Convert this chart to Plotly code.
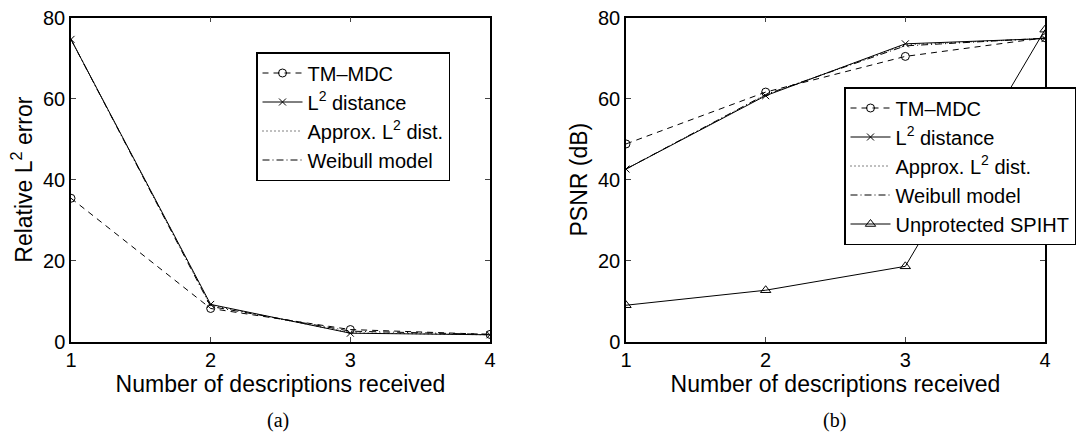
import plotly.graph_objects as go

x_desc = [1, 2, 3, 4]

# (a) Relative L2 error
a_tm_mdc = [35.4, 8.2, 3.0, 1.8]
a_l2_dist = [74.6, 9.2, 2.1, 1.7]
a_approx_l2 = [74.6, 9.0, 2.2, 1.7]
a_weibull = [74.6, 8.7, 2.6, 1.8]

# (b) PSNR (dB)
b_tm_mdc = [48.8, 61.6, 70.4, 75.0]
b_l2_dist = [42.6, 60.7, 73.5, 74.8]
b_approx_l2 = [42.6, 60.9, 73.3, 74.8]
b_weibull = [42.6, 61.0, 73.0, 74.9]
b_unprotected = [9.0, 12.7, 18.6, 77.0]

yticks = [0, 20, 40, 60, 80]

FONT = "Liberation Sans, Arial, sans-serif"
fig = go.Figure()

def add(xa, ya, y, name, dash, symbol, legend, msize=8):
    fig.add_trace(go.Scatter(
        x=x_desc, y=y, name=name, xaxis=xa, yaxis=ya, legend=legend,
        mode="lines+markers" if symbol else "lines",
        line=dict(color="black", width=1, dash=dash),
        marker=dict(symbol=symbol or "circle", size=msize, color="black",
                    line=dict(color="black", width=1)),
    ))

# panel (a)
add("x", "y", a_tm_mdc, "TM\u2013MDC", "6px,5px", "circle-open", "legend")
add("x", "y", a_l2_dist, "L<sup>2</sup> distance", "solid", "x-thin-open", "legend", 7)
add("x", "y", a_approx_l2, "Approx. L<sup>2</sup> dist.", "1px,3px", None, "legend")
add("x", "y", a_weibull, "Weibull model", "7px,3px,1px,3px", None, "legend")

# panel (b)
add("x2", "y2", b_tm_mdc, "TM\u2013MDC", "6px,5px", "circle-open", "legend2")
add("x2", "y2", b_l2_dist, "L<sup>2</sup> distance", "solid", "x-thin-open", "legend2", 7)
add("x2", "y2", b_approx_l2, "Approx. L<sup>2</sup> dist.", "1px,3px", None, "legend2")
add("x2", "y2", b_weibull, "Weibull model", "7px,3px,1px,3px", None, "legend2")
add("x2", "y2", b_unprotected, "Unprotected SPIHT", "solid", "triangle-up-open", "legend2", 9)

W, H = 1083, 434
ydom = [(H - 341.7) / H, (H - 17.5) / H]

xcommon = dict(range=[1, 4], tickvals=x_desc, ticks="inside", ticklen=5, mirror="ticks",
               showline=True, linecolor="black", linewidth=1.5, showgrid=False, zeroline=False,
               automargin=False,
               tickfont=dict(family=FONT, size=20, color="black"),
               title=dict(text="Number of descriptions received", standoff=0,
                          font=dict(family=FONT, size=23, color="black")))
ycommon = dict(range=[0, 80], tickvals=yticks, ticks="inside", ticklen=5, mirror="ticks",
               showline=True, linecolor="black", linewidth=1.5, showgrid=False, zeroline=False,
               automargin=False,
               tickfont=dict(family=FONT, size=20, color="black"))

legcommon = dict(bgcolor="white", bordercolor="black", borderwidth=1.5,
                 font=dict(family=FONT, size=20, color="black"),
                 xanchor="left", yanchor="top", tracegroupgap=0, itemwidth=40)

SERIF = "Liberation Serif, Times New Roman, serif"
fig.update_layout(
    width=W, height=H, margin=dict(l=0, r=0, t=0, b=0),
    plot_bgcolor="white", paper_bgcolor="white",
    xaxis=dict(domain=[71 / W, 490 / W], anchor="y", **xcommon),
    yaxis=dict(domain=ydom, anchor="x",
               title=dict(text="Relative L<sup>2</sup> error", standoff=4,
                          font=dict(family=FONT, size=23, color="black")), **ycommon),
    xaxis2=dict(domain=[626 / W, 1045 / W], anchor="y2", **xcommon),
    yaxis2=dict(domain=ydom, anchor="x2",
                title=dict(text="PSNR (dB)", standoff=4,
                           font=dict(family=FONT, size=23, color="black")), **ycommon),
    legend=dict(x=256 / W, y=(H - 52) / H, **legcommon),
    legend2=dict(x=844 / W, y=(H - 87) / H, **legcommon),
    showlegend=True,
    annotations=[
        dict(text="(a)", x=278 / W, y=(H - 420) / H, xref="paper", yref="paper",
             xanchor="center", yanchor="middle",
             showarrow=False, font=dict(family=SERIF, size=20, color="black")),
        dict(text="(b)", x=834 / W, y=(H - 420) / H, xref="paper", yref="paper",
             xanchor="center", yanchor="middle",
             showarrow=False, font=dict(family=SERIF, size=20, color="black")),
    ],
)

fig.write_html("out.html")
